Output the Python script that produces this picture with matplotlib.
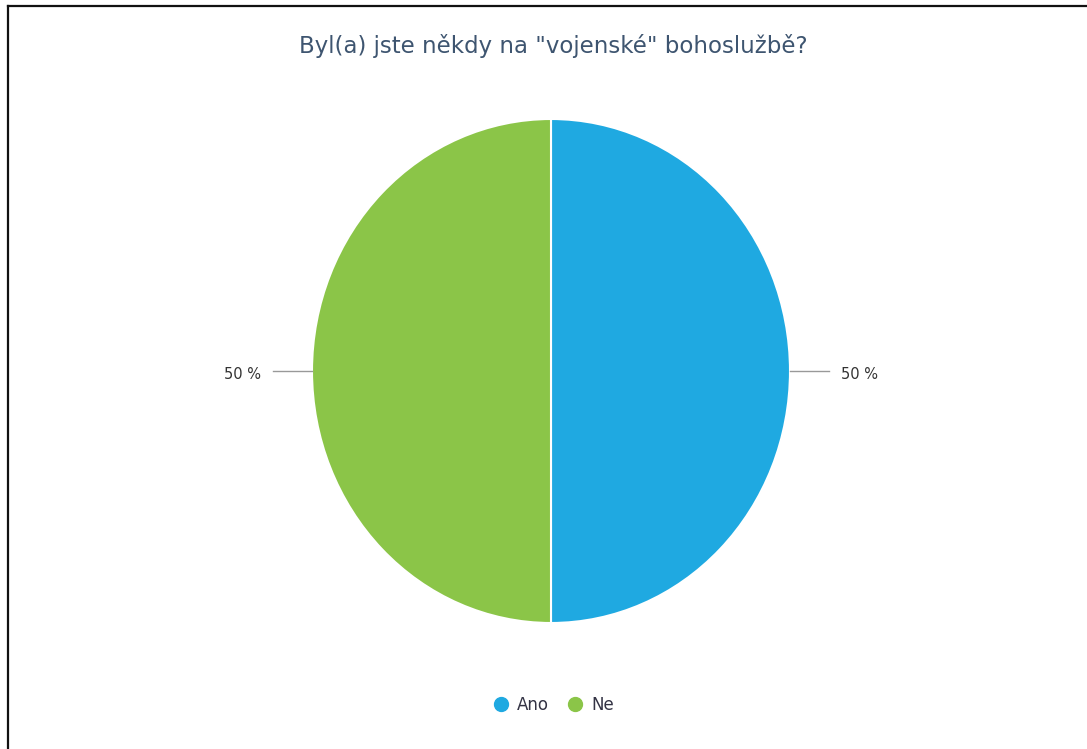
import matplotlib
matplotlib.use("Agg")
import matplotlib.pyplot as plt
from matplotlib.lines import Line2D
import numpy as np

title = 'Byl(a) jste někdy na "vojenské" bohoslužbě?'
categories = ["Ano", "Ne"]
values = [50, 50]
colors = ["#1fa9e1", "#8bc548"]

W, H = 1087, 749
fig = plt.figure(figsize=(W / 100, H / 100), dpi=100)
fig.patch.set_facecolor("white")

# pie axes: radius 1 maps to pie extents
cx, cy, rx, ry = 551, 371, 239, 252
ax = fig.add_axes([(cx - rx) / W, (H - cy - ry) / H, 2 * rx / W, 2 * ry / H])
wedges, _ = ax.pie(values, colors=colors, startangle=90, counterclock=False,
                   wedgeprops=dict(edgecolor="white", linewidth=1.5))
ax.set_aspect("auto")
ax.set_xlim(-1, 1)
ax.set_ylim(-1, 1)
ax.axis("off")

total = sum(values)
for w, v in zip(wedges, values):
    ang = np.deg2rad((w.theta1 + w.theta2) / 2)
    dx, dy = np.cos(ang), np.sin(ang)
    sgn = 1 if dx >= 0 else -1
    ax.plot([sgn * 1.0, sgn * 1.165], [dy, dy], color="#999999", lw=1, clip_on=False)
    ax.text(sgn * 1.212, dy - 0.012, f"{round(v / total * 100)} %",
            ha="left" if sgn > 0 else "right", va="center",
            fontsize=10.5, color="#333333", clip_on=False)

fig.text(553 / W, 1 - 46 / H, title, ha="center", va="center",
         fontsize=16.5, color="#3e5570")

handles = [Line2D([0], [0], marker="o", linestyle="none", markersize=10,
                  markerfacecolor=c, markeredgecolor=c) for c in colors]
leg = fig.legend(handles, categories, loc="center", bbox_to_anchor=(553 / W, 1 - 705 / H),
                 ncol=2, frameon=False, fontsize=12, handletextpad=0.45,
                 columnspacing=1.1, handlelength=1.0)
for t in leg.get_texts():
    t.set_color("#333344")

# border lines (top and left)
fig.add_artist(Line2D([8 / W, 1], [1 - 6 / H, 1 - 6 / H], color="#111111", lw=1.6,
                      transform=fig.transFigure))
fig.add_artist(Line2D([8 / W, 8 / W], [0, 1 - 6 / H], color="#111111", lw=1.6,
                      transform=fig.transFigure))

fig.savefig("out.png", dpi=100)
